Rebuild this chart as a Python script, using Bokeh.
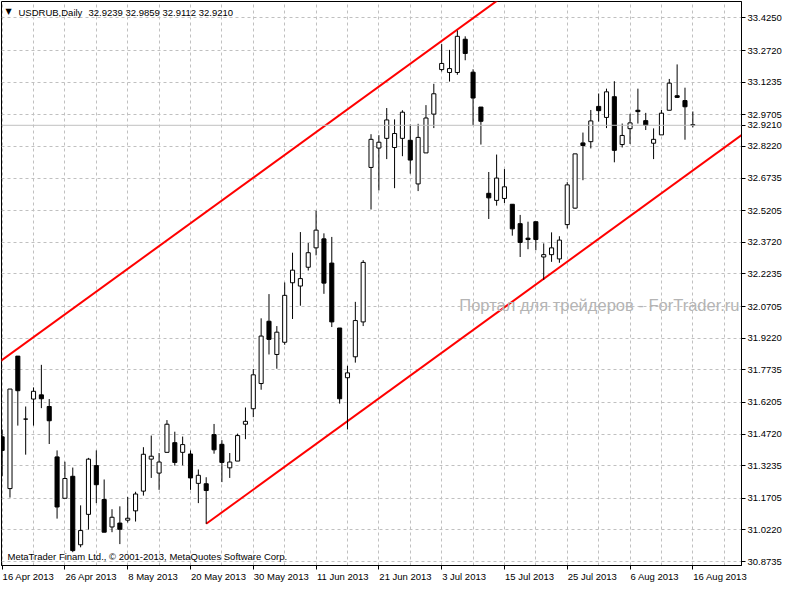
import pandas as pd
from bokeh.plotting import figure
from bokeh.models import (ColumnDataSource, FixedTicker, Range1d, Label, Span, PrintfTickFormatter,
                          CustomJSTickFormatter)
from bokeh.embed import file_html
from bokeh.resources import INLINE

symbol = "USDRUB,Daily"
dates = pd.bdate_range("2013-04-16", periods=89)

opens = [31.4588, 31.2160, 31.8377, 31.5421, 31.6362, 31.6558, 31.6012, 31.3647, 31.1705, 31.2737,
         30.9522, 31.0950, 31.3238, 31.1646, 31.0359, 31.0541, 31.0677, 31.1114, 31.2041, 31.3542,
         31.2887, 31.3861, 31.4316, 31.3861, 31.3783, 31.2405, 31.2387, 31.4693, 31.4238, 31.3133,
         31.3451, 31.5180, 31.5907, 31.7090, 32.0014, 31.8454, 31.9027, 32.1820, 32.1665, 32.2548,
         32.3457, 32.3880, 32.2743, 31.9696, 31.7363, 31.8345, 31.9982, 32.7232, 32.8142, 32.8597,
         32.8169, 32.8597, 32.8506, 32.6459, 32.7914, 32.9734, 33.1826, 33.1689, 33.1689, 33.3249,
         33.1703, 33.0066, 32.6018, 32.5686, 32.5777, 32.5504, 32.4594, 32.3912, 32.4685, 32.3030,
         32.3139, 32.2939, 32.4549, 32.5322, 32.8383, 32.8442, 33.0097, 32.9579, 33.0552, 32.8306,
         32.9051, 32.9916, 32.9429, 32.8369, 32.8760, 32.9916, 33.0598, 33.0370, 32.9239]
highs = [31.4934, 31.6831, 31.8377, 31.6012, 31.6908, 31.7968, 31.6362, 31.3952, 31.3420, 31.3147,
         31.1373, 31.3601, 31.3952, 31.2587, 31.1191, 31.1327, 31.1769, 31.2010, 31.4102, 31.4648,
         31.3829, 31.5375, 31.4829, 31.4602, 31.3952, 31.3056, 31.2692, 31.5193, 31.4434, 31.3829,
         31.4739, 31.5966, 31.7772, 32.0151, 32.1288, 31.9787, 32.1834, 32.3230, 32.4199, 32.3685,
         32.5199, 32.4139, 32.3971, 31.9696, 31.7922, 32.0924, 32.2880, 32.8792, 32.8747, 33.0020,
         32.9488, 32.9916, 32.9247, 32.9279, 33.0157, 33.1157, 33.3022, 33.2749, 33.3659, 33.3386,
         33.1839, 33.0066, 32.7018, 32.7837, 32.7155, 32.5504, 32.5004, 32.4685, 32.4685, 32.3666,
         32.4185, 32.4003, 32.6541, 32.7869, 32.8869, 32.9929, 33.0702, 33.0930, 33.1280, 32.9292,
         32.9747, 33.0930, 32.9793, 32.9065, 32.9929, 33.1385, 33.2067, 33.0975, 32.9859]
lows = [31.2737, 31.1737, 31.5116, 31.3752, 31.5116, 31.5935, 31.4252, 31.0750, 31.1705, 30.9176,
        30.9404, 31.0236, 31.1478, 31.0113, 31.0113, 30.9554, 31.0568, 31.0613, 31.1828, 31.2660,
        31.2101, 31.3861, 31.3238, 31.3251, 31.2101, 31.1478, 31.0509, 31.3797, 31.2464, 31.2660,
        31.3451, 31.4479, 31.5512, 31.6799, 31.8454, 31.7786, 31.8909, 32.0119, 32.0742, 32.2393,
        32.3107, 32.1301, 31.9741, 31.6148, 31.4934, 31.8072, 31.9787, 32.5258, 32.6154, 32.7623,
        32.6259, 32.7760, 32.6941, 32.6122, 32.7914, 32.9079, 33.1735, 33.1262, 33.1580, 33.2262,
        32.9215, 32.8306, 32.4813, 32.5440, 32.5563, 32.4030, 32.3030, 32.3394, 32.3348, 32.1956,
        32.2802, 32.2757, 32.4367, 32.5290, 32.6632, 32.8124, 32.9383, 32.9079, 32.7473, 32.8169,
        32.8337, 32.9292, 32.8988, 32.7623, 32.8760, 32.9916, 33.0489, 32.8533, 32.9112]
closes = [31.3952, 31.6831, 31.6753, 31.5421, 31.6726, 31.6376, 31.5343, 31.1296, 31.2633, 30.9249,
          31.0190, 31.3542, 31.2342, 31.0113, 31.0814, 31.0250, 31.0768, 31.1905, 31.3770, 31.3679,
          31.3406, 31.5180, 31.3388, 31.4225, 31.2660, 31.2783, 31.2069, 31.3979, 31.3388, 31.3406,
          31.4648, 31.5316, 31.7499, 31.9318, 31.9164, 31.9500, 32.1229, 32.2411, 32.2015, 32.3230,
          32.4290, 32.1802, 31.9982, 31.6376, 31.7590, 32.0046, 32.2775, 32.8551, 32.8415, 32.9461,
          32.8824, 32.9825, 32.7578, 32.8642, 32.9552, 33.0689, 33.2112, 33.1871, 33.3386, 33.2581,
          33.0489, 32.9397, 32.5804, 32.6732, 32.6323, 32.4349, 32.3712, 32.3848, 32.3848, 32.3139,
          32.3457, 32.3821, 32.6414, 32.7869, 32.8260, 32.9415, 32.9897, 33.0780, 32.8033, 32.8733,
          32.9324, 32.9852, 32.9215, 32.8551, 32.9779, 33.1189, 33.0520, 33.0079, 32.9210]

price_ticks = [33.4250, 33.2720, 33.1235, 32.9705, 32.8220, 32.6735, 32.5205, 32.3720, 32.2235,
               32.0705, 31.9220, 31.7735, 31.6205, 31.4720, 31.3235, 31.1705, 31.0220, 30.8735]
date_tick_idx = list(range(0, 89, 8))
date_labels = [f"{dates[i].day} {dates[i].strftime('%b')} {dates[i].year}" for i in date_tick_idx]

# trend channel anchors: (bar index, price)
upper_channel_x = [0, 58]
upper_channel_y = [31.8195, 33.3704]
lower_channel_x = [26, 69]
lower_channel_y = [31.0509, 32.2007]

last_price = closes[-1]
watermark = "Портал для трейдеров - ForTrader.ru"
copyright_text = "MetaTrader Finam Ltd., © 2001-2013, MetaQuotes Software Corp."

FONT = "Liberation Sans"
FS_PX = 9.5
FS = f"{FS_PX}px"
W, H = 784, 584
BORDER_R = 43

x_start, x_end = -0.08, 94.2
y_start, y_end = 30.855, 33.502

idx = list(range(len(opens)))
tops = [max(o, c) for o, c in zip(opens, closes)]
bots = [min(o, c) for o, c in zip(opens, closes)]
fills = ["white" if c >= o else "black" for o, c in zip(opens, closes)]
src = ColumnDataSource(dict(x=idx, open=opens, high=highs, low=lows, close=closes,
                            top=tops, bottom=bots, fill=fills))

p = figure(width=W, height=H, output_backend="svg", toolbar_location=None,
           x_range=Range1d(x_start, x_end), y_range=Range1d(y_start, y_end),
           y_axis_location="right", min_border_left=1, min_border_top=1,
           min_border_right=BORDER_R, background_fill_color="white",
           border_fill_color="white", outline_line_color="black")

# grids
p.xgrid.ticker = FixedTicker(ticks=list(range(0, 96, 4)))
p.ygrid.ticker = FixedTicker(ticks=price_ticks)
for g in (p.xgrid, p.ygrid):
    g.grid_line_color = "#c0c0c0"
    g.grid_line_dash = "3 3"
    g.grid_line_width = 1

# right price axis (plus the current-price mark)
ya = p.yaxis[0]
ya.ticker = FixedTicker(ticks=price_ticks + [last_price])
ya.formatter = PrintfTickFormatter(format="%.4f")

# bottom axis: minor ticks mark the dates, major (invisible) ticks carry left-aligned labels
CW = {" ": 0.278, "A": 0.667, "p": 0.556, "r": 0.333, "M": 0.833, "a": 0.556, "y": 0.5,
      "J": 0.5, "u": 0.556, "n": 0.556, "l": 0.222, "g": 0.556}
px_per_bar = (W - 1 - BORDER_R) / (x_end - x_start)
label_pos = []
for i, t in zip(date_tick_idx, date_labels):
    w = sum(CW.get(ch, 0.556) for ch in t) * FS_PX
    label_pos.append(i + (w / 2 + 0.5) / px_per_bar)

xa = p.xaxis[0]
xa.ticker = FixedTicker(ticks=label_pos, minor_ticks=date_tick_idx)
xa.formatter = CustomJSTickFormatter(args=dict(pos=label_pos, txt=date_labels), code="""
    for (let i = 0; i < pos.length; i++) { if (Math.abs(pos[i] - tick) < 1e-6) return txt[i]; }
    return "";
""")
xa.major_tick_line_color = None
xa.major_tick_out = 4
xa.minor_tick_line_color = "black"
xa.minor_tick_out = 4
xa.minor_tick_in = 0
xa.major_label_standoff = 1

ya.major_tick_line_color = "black"
ya.major_tick_out = 4
ya.major_tick_in = 0
ya.minor_tick_line_color = None
ya.major_label_standoff = 2

for ax in (xa, ya):
    ax.axis_line_color = "black"
    ax.major_label_text_font = FONT
    ax.major_label_text_font_size = FS
    ax.major_label_text_color = "black"

# current price line
p.add_layout(Span(location=last_price, dimension="width", line_color="#c0c0c0", line_width=1))

# channel lines
def extend(xs, ys, x0, x1):
    s = (ys[1] - ys[0]) / (xs[1] - xs[0])
    return [x0, x1], [ys[0] + s * (x0 - xs[0]), ys[0] + s * (x1 - xs[0])]

ux, uy = extend(upper_channel_x, upper_channel_y, x_start - 1, x_end + 5)
lx, ly = extend(lower_channel_x, lower_channel_y, lower_channel_x[0], x_end + 5)
p.line(ux, uy, line_color="#ff0000", line_width=2)
p.line(lx, ly, line_color="#ff0000", line_width=2)

# candles
p.segment(x0="x", y0="low", x1="x", y1="high", source=src, line_color="black", line_width=1)
p.vbar(x="x", width=0.52, top="top", bottom="bottom", source=src,
       fill_color="fill", line_color="black", line_width=1)

# texts
p.add_layout(Label(x=x_start, y=y_end, x_offset=4, y_offset=-5, text="▼",
                   text_font="DejaVu Sans", text_font_size="8px", text_baseline="top",
                   text_color="black"))
p.add_layout(Label(x=x_start, y=y_end, x_offset=17, y_offset=-5, text=symbol,
                   text_font=FONT, text_font_size=FS, text_baseline="top", text_color="black"))
p.add_layout(Label(x=x_start, y=y_end, x_offset=87, y_offset=-5,
                   text=f"{opens[-1]:.4f} {highs[-1]:.4f} {lows[-1]:.4f} {closes[-1]:.4f}",
                   text_font=FONT, text_font_size=FS, text_baseline="top", text_color="black"))
p.add_layout(Label(x=x_start, y=y_start, x_offset=6, y_offset=4, text=copyright_text,
                   text_font=FONT, text_font_size=FS, text_baseline="bottom", text_color="black"))
p.add_layout(Label(x=x_end, y=32.079, x_offset=-2, text=watermark, text_font=FONT,
                   text_font_size="16.5px", text_align="right", text_baseline="middle",
                   text_color="#b4b4b4"))

open("out.html", "w").write(file_html(p, INLINE))
